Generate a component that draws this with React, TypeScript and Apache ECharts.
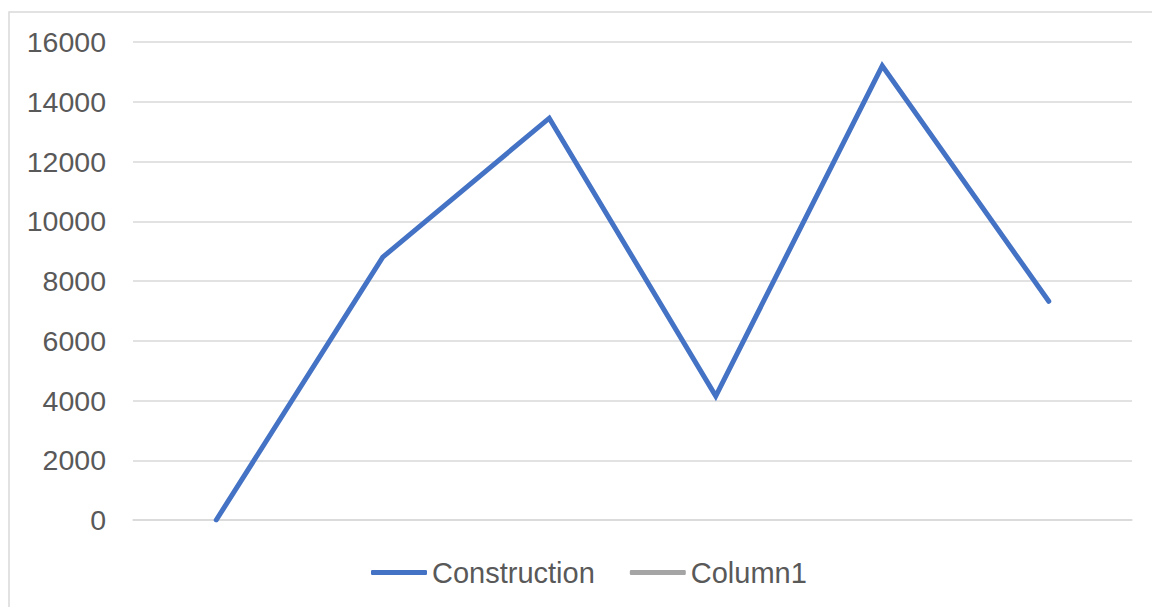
import React, { useEffect, useRef } from "react";
import * as echarts from "echarts";

const categories = ["1", "2", "3", "4", "5", "6"];
const construction = [0, 8800, 13450, 4150, 15200, 7320];
const column1: number[] = [];
const yTicks = { min: 0, max: 16000, interval: 2000 };

export default function App() {
  const ref = useRef<HTMLDivElement>(null);
  useEffect(() => {
    document.body.style.margin = "0";
    const chart = echarts.init(ref.current!, null, { renderer: "svg" });
    const font = "'Liberation Sans', Arial, sans-serif";
    chart.setOption({
      animation: false,
      backgroundColor: "#ffffff",
      textStyle: { fontFamily: font },
      graphic: [
        {
          type: "rect",
          shape: { x: 9, y: 12, width: 1200, height: 700 },
          style: { fill: "none", stroke: "#d9d9d9", lineWidth: 1.5 },
          silent: true,
        },
      ],
      grid: { left: 133, right: 20, top: 42, bottom: 87 },
      xAxis: {
        type: "category",
        data: categories,
        boundaryGap: true,
        axisLine: { show: true, lineStyle: { color: "#d9d9d9", width: 1.5 } },
        axisTick: { show: false },
        axisLabel: { show: false },
      },
      yAxis: {
        type: "value",
        min: yTicks.min,
        max: yTicks.max,
        interval: yTicks.interval,
        axisLine: { show: false },
        axisTick: { show: false },
        axisLabel: {
          color: "#595959",
          fontSize: 28.5,
          margin: 27,
          fontFamily: font,
          formatter: (v: number) => String(v),
        },
        splitLine: { lineStyle: { color: "#d9d9d9", width: 1.5 } },
      },
      legend: {
        bottom: 15,
        left: 366,
        padding: [5, 5],
        itemWidth: 56,
        itemHeight: 5,
        itemGap: 35,
        icon: "roundRect",
        textStyle: { color: "#595959", fontSize: 29, fontFamily: font },
        data: ["Construction", "Column1"],
      },
      series: [
        {
          name: "Construction",
          type: "line",
          data: construction,
          symbol: "none",
          color: "#4472c4",
          lineStyle: { color: "#4472c4", width: 5, join: "miter", cap: "round" },
        },
        {
          name: "Column1",
          type: "line",
          data: column1,
          symbol: "none",
          color: "#a5a5a5",
          lineStyle: { color: "#a5a5a5", width: 5 },
        },
      ],
    });
    return () => chart.dispose();
  }, []);
  return (
    <div
      ref={ref}
      style={{ position: "absolute", left: 0, top: 0, width: 1152, height: 607 }}
    />
  );
}
